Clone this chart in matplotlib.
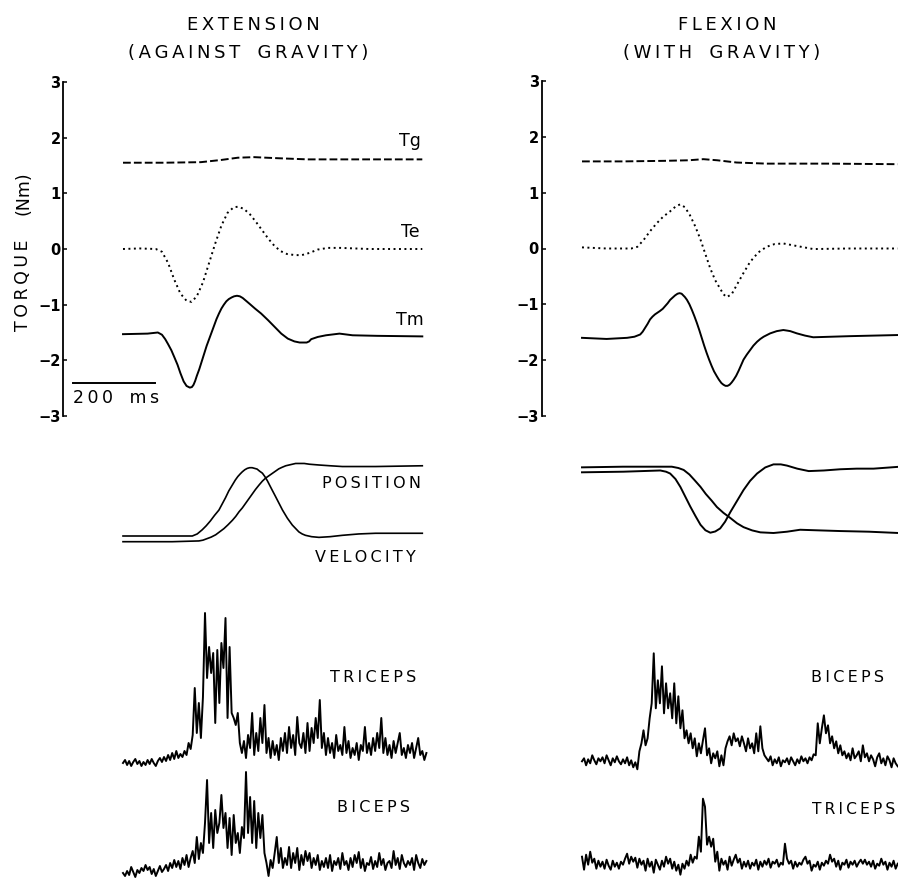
import numpy as np
import matplotlib
matplotlib.use("Agg")
import matplotlib.pyplot as plt

W, H = 898, 883
plt.rcParams['font.family'] = ['DejaVu Sans']

# ---------------- DATA (time in ms, torque in Nm) ----------------
# Extension (against gravity)
T_TG_EXT = [0, 100, 190, 240, 280, 320, 380, 450, 550, 730]
TG_EXT = [1.55, 1.55, 1.56, 1.60, 1.64, 1.65, 1.63, 1.61, 1.61, 1.61]

T_TE_EXT = [0, 40, 80, 95, 110, 125, 140, 155, 167, 180, 195, 210, 225, 240, 255, 270, 281,
            295, 310, 325, 340, 355, 370, 385, 400, 420, 436, 455, 475, 500, 530, 600, 730]
TE_EXT = [0, 0.01, 0.0, -0.05, -0.25, -0.55, -0.8, -0.93, -0.95, -0.85, -0.6, -0.25, 0.1, 0.42,
          0.65, 0.75, 0.76, 0.72, 0.62, 0.48, 0.33, 0.18, 0.05, -0.04, -0.09, -0.11, -0.11,
          -0.07, -0.01, 0.02, 0.02, 0.0, 0.0]

T_TM_EXT = [0, 60, 85, 95, 103, 110, 118, 125, 133, 140, 148, 155, 163, 168, 172, 176, 180, 186,
            192, 198, 204, 210, 216, 222, 228, 234, 240, 246, 252, 258, 265, 271, 278, 285,
            292, 300, 308, 322, 337, 354, 370, 386, 402, 418, 431, 448, 454, 459, 467, 475,
            495, 528, 560, 620, 730]
TM_EXT = [-1.53, -1.52, -1.50, -1.54, -1.62, -1.71, -1.82, -1.94, -2.08, -2.23, -2.38, -2.46,
          -2.49, -2.48, -2.44, -2.37, -2.28, -2.16, -2.02, -1.88, -1.74, -1.62, -1.5, -1.38,
          -1.26, -1.16, -1.07, -1.0, -0.94, -0.9, -0.87, -0.85, -0.84, -0.85, -0.88, -0.93,
          -0.98, -1.07, -1.16, -1.28, -1.40, -1.52, -1.61, -1.66, -1.68, -1.68, -1.66, -1.62,
          -1.6, -1.58, -1.55, -1.52, -1.55, -1.56, -1.57]

# Flexion (with gravity)
T_TG_FLEX = [0, 100, 200, 260, 296, 330, 377, 450, 600, 770]
TG_FLEX = [1.56, 1.56, 1.57, 1.58, 1.60, 1.58, 1.54, 1.52, 1.52, 1.51]

T_TE_FLEX = [0, 60, 120, 135, 150, 166, 182, 198, 214, 228, 239, 251, 263, 276, 288, 300, 313,
             325, 337, 345, 353, 365, 377, 393, 410, 430, 450, 470, 491, 520, 564, 650, 770]
TE_FLEX = [0.02, 0.0, 0.0, 0.03, 0.15, 0.31, 0.45, 0.57, 0.66, 0.75, 0.79, 0.74, 0.6, 0.4, 0.18,
           -0.08, -0.36, -0.57, -0.72, -0.82, -0.87, -0.82, -0.66, -0.45, -0.24, -0.07, 0.03,
           0.08, 0.09, 0.05, -0.01, 0.0, 0.0]

T_TM_FLEX = [0, 60, 110, 128, 142, 148, 154, 160, 166, 172, 178, 184, 190, 197, 203, 209, 215,
             221, 227, 233, 238, 243, 247, 251, 256, 262, 268, 274, 280, 286, 292, 298, 304,
             310, 316, 322, 329, 334, 340, 345, 350, 355, 360, 365, 370, 376, 382, 388, 394,
             402, 410, 418, 427, 435, 443, 451, 459, 467, 475, 483, 491, 500, 508, 516, 524,
             544, 564, 653, 770]
TM_FLEX = [-1.60, -1.62, -1.60, -1.58, -1.54, -1.49, -1.42, -1.35, -1.27, -1.22, -1.18, -1.15,
           -1.12, -1.08, -1.03, -0.98, -0.92, -0.88, -0.84, -0.81, -0.80, -0.81, -0.84, -0.87,
           -0.92, -1.0, -1.1, -1.21, -1.33, -1.46, -1.6, -1.74, -1.87, -1.99, -2.1, -2.2,
           -2.29, -2.35, -2.41, -2.44, -2.46, -2.46, -2.44, -2.4, -2.35, -2.28, -2.19, -2.09,
           -1.99, -1.9, -1.82, -1.74, -1.67, -1.62, -1.58, -1.55, -1.52, -1.5, -1.48, -1.47,
           -1.46, -1.47, -1.48, -1.5, -1.52, -1.56, -1.59, -1.57, -1.55]

# Position / velocity (normalised)
T_VEL_EXT = [0, 120, 169, 181, 193, 203, 213, 223, 234, 242, 250, 258, 267, 274, 280, 286, 291,
             297, 303, 309, 315, 321, 327, 333, 340, 346, 352, 358, 364, 371, 377, 383, 389,
             395, 401, 407, 413, 421, 429, 437, 445, 460, 478, 505, 535, 575, 616, 730]
VEL_EXT = [0, 0, 0.0, 0.03, 0.09, 0.15, 0.22, 0.3, 0.38, 0.47, 0.56, 0.66, 0.75, 0.82, 0.87,
           0.91, 0.94, 0.97, 0.99, 1.0, 1.0, 0.99, 0.98, 0.95, 0.92, 0.87, 0.81, 0.74, 0.67,
           0.59, 0.52, 0.45, 0.38, 0.32, 0.26, 0.21, 0.16, 0.11, 0.06, 0.03, 0.01, -0.01,
           -0.02, -0.01, 0.01, 0.03, 0.04, 0.04]
T_POS_EXT = [0, 120, 185, 195, 205, 215, 226, 236, 246, 256, 267, 275, 283, 291, 299, 307, 315,
             323, 332, 340, 348, 356, 364, 372, 380, 388, 397, 405, 413, 421, 429, 442, 455,
             478, 505, 535, 616, 730]
POS_EXT = [0, 0, 0.01, 0.02, 0.04, 0.06, 0.09, 0.13, 0.17, 0.22, 0.28, 0.33, 0.39, 0.44, 0.5,
           0.56, 0.62, 0.68, 0.74, 0.79, 0.83, 0.86, 0.89, 0.92, 0.95, 0.97, 0.99, 1.0, 1.01,
           1.02, 1.02, 1.02, 1.01, 1.0, 0.99, 0.98, 0.98, 0.99]

T_VEL_FLEX = [0, 101, 191, 205, 215, 228, 240, 252, 264, 277, 289, 301, 313, 325, 337, 349,
              362, 378, 394, 410, 427, 447, 467, 485, 500, 525, 553, 590, 630, 670, 711, 772]
VEL_FLEX = [-0.01, 0, 0.02, 0.0, -0.03, -0.12, -0.25, -0.41, -0.57, -0.73, -0.87, -0.96, -1.0,
            -0.98, -0.93, -0.82, -0.66, -0.48, -0.3, -0.15, -0.03, 0.07, 0.12, 0.12, 0.1, 0.05,
            0.01, 0.02, 0.04, 0.05, 0.05, 0.08]
T_POS_FLEX = [0, 100, 219, 235, 248, 262, 275, 289, 302, 316, 329, 345, 362, 378, 394, 415,
              435, 467, 500, 532, 580, 630, 700, 772]
POS_FLEX = [-0.01, 0, 0, -0.02, -0.05, -0.12, -0.21, -0.31, -0.42, -0.52, -0.62, -0.71, -0.79,
            -0.87, -0.93, -0.98, -1.01, -1.02, -1.0, -0.97, -0.98, -0.99, -1.0, -1.02]

# Rectified EMG (a.u.), sampled every 5 ms
EMG_DT = 5
TRICEPS_EXT = [0, 3, -2, 2, -3, 1, 4, -1, 2, -3,
               1, -2, 3, -1, 4, 0, -3, 2, 5, 1,
               6, 2, 8, 3, 10, 4, 12, 5, 9, 6,
               12, 8, 20, 14, 28, 75, 30, 60, 25, 66,
               150, 85, 116, 90, 110, 40, 113, 60, 120, 95,
               145, 45, 116, 50, 45, 38, 50, 20, 10, 22,
               5, 28, 15, 50, 8, 30, 12, 45, 20, 58,
               10, 25, 5, 22, 8, 18, 3, 25, 12, 30,
               10, 36, 15, 28, 8, 46, 20, 15, 30, 10,
               40, 12, 35, 20, 45, 25, 63, 15, 30, 8,
               25, 10, 20, 5, 28, 12, 18, 8, 36, 10,
               22, 5, 15, 8, 20, 3, 18, 12, 36, 10,
               20, 8, 25, 12, 30, 15, 45, 10, 25, 8,
               18, 5, 22, 10, 20, 30, 8, 15, 5, 18,
               10, 20, 5, 15, 25, 8, 12, 3, 10]
BICEPS_EXT = [0, -3, 2, -2, 6, 1, -4, 3, 0, 5,
              2, 8, 3, 6, -1, 4, -3, 2, 7, 1,
              4, 8, 2, 10, 5, 13, 6, 12, 4, 15,
              8, 18, 6, 15, 22, 10, 36, 14, 30, 20,
              50, 93, 30, 60, 25, 63, 40, 50, 78, 45,
              60, 25, 55, 18, 58, 30, 40, 20, 46, 35,
              101, 40, 76, 30, 72, 25, 60, 35, 58, 20,
              10, -3, 13, 5, 20, 36, 10, 25, 5, 15,
              8, 26, 5, 20, 10, 25, 3, 18, 8, 22,
              12, 20, 5, 15, 8, 18, 3, 12, 6, 15,
              5, 18, 2, 12, 8, 15, 4, 20, 8, 12,
              3, 15, 6, 18, 10, 21, 5, 14, 2, 10,
              8, 16, 4, 12, 6, 20, 8, 14, 3, 10,
              12, 5, 22, 8, 15, 4, 18, 10, 6, 12,
              8, 15, 3, 18, 10, 5, 14, 8, 12]
BICEPS_FLEX = [2, 5, -2, 4, 0, 8, 3, -1, 5, 2,
               6, 0, 8, 3, -2, 5, 1, 7, 2, -1,
               4, 0, 6, -2, 3, -4, 1, -6, 12, 20,
               33, 18, 25, 45, 60, 110, 55, 83, 60, 97,
               50, 80, 55, 70, 45, 80, 40, 67, 35, 53,
               25, 33, 20, 30, 15, 25, 7, 20, 10, 23,
               35, 8, 15, 0, 10, 5, 12, -3, 8, -2,
               15, 22, 27, 18, 30, 22, 25, 17, 27, 20,
               12, 25, 15, 20, 10, 30, 12, 37, 15, 8,
               5, 2, 7, -2, 4, 0, 6, -3, 3, 1,
               5, -1, 6, 2, -2, 4, 0, 7, 2, 5,
               0, 6, 3, 9, 8, 40, 20, 35, 48, 30,
               38, 20, 27, 15, 22, 10, 18, 8, 12, 5,
               10, 3, 15, 5, 8, 12, 2, 18, 6, 10,
               2, 8, 4, -3, 6, 10, 0, 5, -2, 7,
               3, -4, 5, 0, -3]
TRICEPS_FLEX = [10, -3, 12, 2, 15, 4, 8, -2, 6, 0,
                5, -2, 7, 1, -3, 6, 0, 4, -2, 5,
                2, 8, 13, 3, 10, 5, 9, -1, 8, 2,
                6, -4, 8, 0, 5, -6, 7, 2, -3, 6,
                0, 10, 3, 8, -2, 5, -4, 2, -8, 3,
                -2, 6, 1, 12, 4, 10, 8, 30, 15, 68,
                60, 22, 30, 20, 28, 5, 15, -4, 8, 2,
                6, -3, 10, 1, 7, 12, 4, 8, -2, 5,
                0, 6, -2, 4, 1, 7, -3, 5, 0, 6,
                2, 8, -1, 5, 3, 7, 0, 4, 2, 23,
                8, 3, 6, -2, 5, 0, 4, 2, 7, 10,
                3, 6, -4, 2, 0, 5, -3, 4, 1, 6,
                3, 12, 5, 8, 0, 6, -3, 4, 2, 7,
                -1, 5, 2, 6, 0, 4, 7, 3, 7, 2,
                5, 0, 6, -2, 3, 1, 8, 2, 5, -3,
                4, 0, 6, -2, 3]

TORQUE_TICKS = [-3, -2, -1, 0, 1, 2, 3]

# ---------------- LAYOUT ----------------
PX_PER_MS = 0.41
fig = plt.figure(figsize=(W / 100, H / 100), dpi=100)


def spaced(s):
    """Wide letter spacing like the original plotter lettering."""
    return '\u2009'.join(s)


def add_ax(x0, y0, x1, y1):
    return fig.add_axes([x0 / W, 1 - y1 / H, (x1 - x0) / W, (y1 - y0) / H])


def blank(ax):
    for s in ax.spines.values():
        s.set_visible(False)
    ax.set_xticks([])
    ax.set_yticks([])
    ax.patch.set_alpha(0)


columns = [
    dict(spine_x=63.3, t0_x=123, x1=440, ytop=82, ybot=416),
    dict(spine_x=541.7, t0_x=582, x1=898, ytop=81, ybot=416),
]


def xlim_for(c):
    return ((c['spine_x'] - c['t0_x']) / PX_PER_MS, (c['x1'] - c['t0_x']) / PX_PER_MS)


LW = 1.4
for i, c in enumerate(columns):
    ax = add_ax(c['spine_x'], c['ytop'], c['x1'], c['ybot'])
    ax.set_xlim(*xlim_for(c))
    ax.set_ylim(-3, 3)
    ax.patch.set_alpha(0)
    for s in ['top', 'right', 'bottom']:
        ax.spines[s].set_visible(False)
    ax.spines['left'].set_linewidth(1.3)
    ax.set_xticks([])
    ax.set_yticks(TORQUE_TICKS)
    ax.set_yticklabels([str(v).replace('-', '\u2212') for v in TORQUE_TICKS],
                       fontsize=10.5, fontweight='bold')
    ax.tick_params(axis='y', direction='in', length=3, width=1.1, pad=2)
    if i == 0:
        tg, te, tm = (T_TG_EXT, TG_EXT), (T_TE_EXT, TE_EXT), (T_TM_EXT, TM_EXT)
    else:
        tg, te, tm = (T_TG_FLEX, TG_FLEX), (T_TE_FLEX, TE_FLEX), (T_TM_FLEX, TM_FLEX)
    ax.plot(*tg, color='black', lw=LW, linestyle=(0, (4, 1.6)))
    ax.plot(*te, color='black', lw=LW, linestyle=(0, (1, 1.8)))
    ax.plot(*tm, color='black', lw=LW)
    if i == 0:
        ax.text(700, 1.78, 'Tg', fontsize=12.5, ha='center', va='bottom')
        ax.text(700, 0.15, 'Te', fontsize=12.5, ha='center', va='bottom')
        ax.text(700, -1.43, 'Tm', fontsize=12.5, ha='center', va='bottom')
        # 200 ms scale bar
        sb_t0 = (73.3 - c['t0_x']) / PX_PER_MS
        ax.plot([sb_t0, sb_t0 + 200], [-2.4, -2.4], color='black', lw=1.4, clip_on=False)
        ax.text(sb_t0, -2.52, spaced('200') + '   ' + spaced('ms'), fontsize=12.5,
                ha='left', va='top')

    # position / velocity
    pv = add_ax(c['spine_x'], 440, c['x1'], 600)
    pv.set_xlim(*xlim_for(c))
    pv.set_ylim(0, 160)
    blank(pv)
    if i == 0:
        pv.plot(T_VEL_EXT, 64 + 68.3 * np.array(VEL_EXT), color='black', lw=1.2)
        pv.plot(T_POS_EXT, 58.3 + 76.7 * np.array(POS_EXT), color='black', lw=1.2)
        pv.text(607, 117, spaced('POSITION'), fontsize=11.5, ha='center', va='center')
        pv.text(590, 42, spaced('VELOCITY'), fontsize=11.5, ha='center', va='center')
    else:
        pv.plot(T_VEL_FLEX, 128.3 + 61 * np.array(VEL_FLEX), color='black', lw=1.4)
        pv.plot(T_POS_FLEX, 133.3 + 65 * np.array(POS_FLEX), color='black', lw=1.4)

    # EMG
    em = add_ax(c['spine_x'], 590, c['x1'], 883)
    em.set_xlim(*xlim_for(c))
    em.set_ylim(0, 293)
    blank(em)
    if i == 0:
        top, bot = TRICEPS_EXT, BICEPS_EXT
        base_top, base_bot = 120, 10
        em.text(610, 205, spaced('TRICEPS'), fontsize=11.5, ha='center', va='center')
        em.text(610, 75, spaced('BICEPS'), fontsize=11.5, ha='center', va='center')
    else:
        top, bot = BICEPS_FLEX, TRICEPS_FLEX
        base_top, base_bot = 119.7, 16.3
        em.text(648, 206, spaced('BICEPS'), fontsize=11.5, ha='center', va='center')
        em.text(662, 73, spaced('TRICEPS'), fontsize=11.2, ha='center', va='center')
    t_top = np.arange(len(top)) * EMG_DT
    t_bot = np.arange(len(bot)) * EMG_DT
    em.plot(t_top, base_top + np.array(top), color='black', lw=1.4)
    em.plot(t_bot, base_bot + np.array(bot), color='black', lw=1.4)

# Y-axis label of the torque panel
fig.text(23 / W, 1 - 285 / H, spaced('TORQUE'), fontsize=12.5, rotation=90,
         ha='center', va='center')
fig.text(23 / W, 1 - 193 / H, '(Nm)', fontsize=12.5, rotation=90, ha='center', va='center')

# Titles
fig.text(253 / W, 1 - 25 / H, spaced('EXTENSION'), fontsize=13, ha='center', va='center')
fig.text(248 / W, 1 - 53 / H, spaced('(AGAINST') + '   ' + spaced('GRAVITY)'), fontsize=13,
         ha='center', va='center')
fig.text(727 / W, 1 - 25 / H, spaced('FLEXION'), fontsize=13, ha='center', va='center')
fig.text(722 / W, 1 - 53 / H, spaced('(WITH') + '   ' + spaced('GRAVITY)'), fontsize=13,
         ha='center', va='center')

fig.savefig('out.png', dpi=100)
